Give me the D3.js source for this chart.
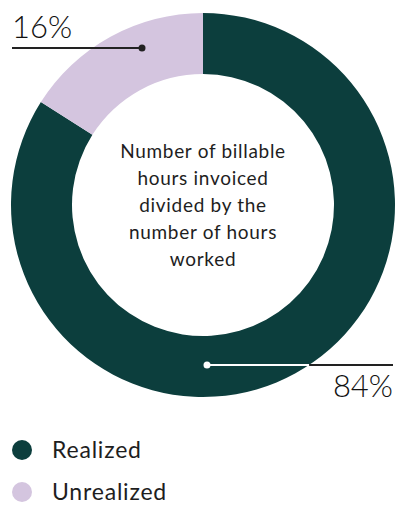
<!DOCTYPE html>
<html><head><meta charset="utf-8">
<script src="https://cdn.jsdelivr.net/npm/d3@7"></script>
<style>html,body{margin:0;padding:0;background:#fff;}svg{display:block;}</style>
</head><body>
<script>
const categories = ["Realized", "Unrealized"];
const values = [84, 16];
const labels = ["84%", "16%"];
const colors = ["#0c3e3d", "#d4c5df"];
const centerLines = ["Number of billable", "hours invoiced", "divided by the", "number of hours", "worked"];

const W = 396, H = 506;
const cx = 203, cy = 205, rOuter = 192, rInner = 131;
const font = "Lato, 'Open Sans', sans-serif";

const svg = d3.select("body").append("svg").attr("width", W).attr("height", H);

const pie = d3.pie().sort(null).value(d => d)
  .startAngle(0).endAngle(2 * Math.PI);
const arcs = pie(values);
const arc = d3.arc().innerRadius(rInner).outerRadius(rOuter);

const g = svg.append("g").attr("transform", `translate(${cx},${cy})`);
g.selectAll("path").data(arcs).join("path")
  .attr("d", arc).attr("fill", (d, i) => colors[i]);

// center text
const ct = svg.append("text").attr("text-anchor", "middle")
  .attr("font-family", font).attr("font-size", 19).attr("letter-spacing", 0.7).attr("fill", "#1e1e1e");
centerLines.forEach((t, i) => {
  ct.append("tspan").attr("x", cx).attr("y", 158 + i * 27).text(t);
});

// 16% label (Unrealized)
const yU = 48;
const xU = 142;
svg.append("line").attr("x1", 12).attr("x2", xU).attr("y1", yU).attr("y2", yU)
  .attr("stroke", "#222").attr("stroke-width", 2);
svg.append("circle").attr("cx", xU).attr("cy", yU).attr("r", 3.5).attr("fill", "#222");
svg.append("text").attr("x", 12).attr("y", 38).attr("font-family", font)
  .attr("font-size", 31).attr("font-weight", 300).attr("fill", "#111").text(labels[1]);

// 84% label (Realized)
const yR = 365, xR = 207;
const xEdge = cx + Math.sqrt(rOuter * rOuter - (yR - cy) * (yR - cy));
svg.append("line").attr("x1", xR).attr("x2", xEdge).attr("y1", yR).attr("y2", yR)
  .attr("stroke", "#fff").attr("stroke-width", 2);
svg.append("line").attr("x1", xEdge).attr("x2", 393).attr("y1", yR).attr("y2", yR)
  .attr("stroke", "#222").attr("stroke-width", 2);
svg.append("circle").attr("cx", xR).attr("cy", yR).attr("r", 3.5).attr("fill", "#fff");
svg.append("text").attr("x", 393).attr("y", 397).attr("text-anchor", "end").attr("font-family", font)
  .attr("font-size", 31).attr("font-weight", 300).attr("fill", "#111").text(labels[0]);

// legend
const leg = svg.append("g");
categories.forEach((c, i) => {
  const y = 450 + i * 42;
  leg.append("circle").attr("cx", 22).attr("cy", y).attr("r", 10).attr("fill", colors[i]);
  leg.append("text").attr("x", 52).attr("y", y + 8).attr("font-family", font)
    .attr("font-size", 23).attr("letter-spacing", 0.8).attr("fill", "#1e1e1e").text(c);
});
</script>
</body></html>
